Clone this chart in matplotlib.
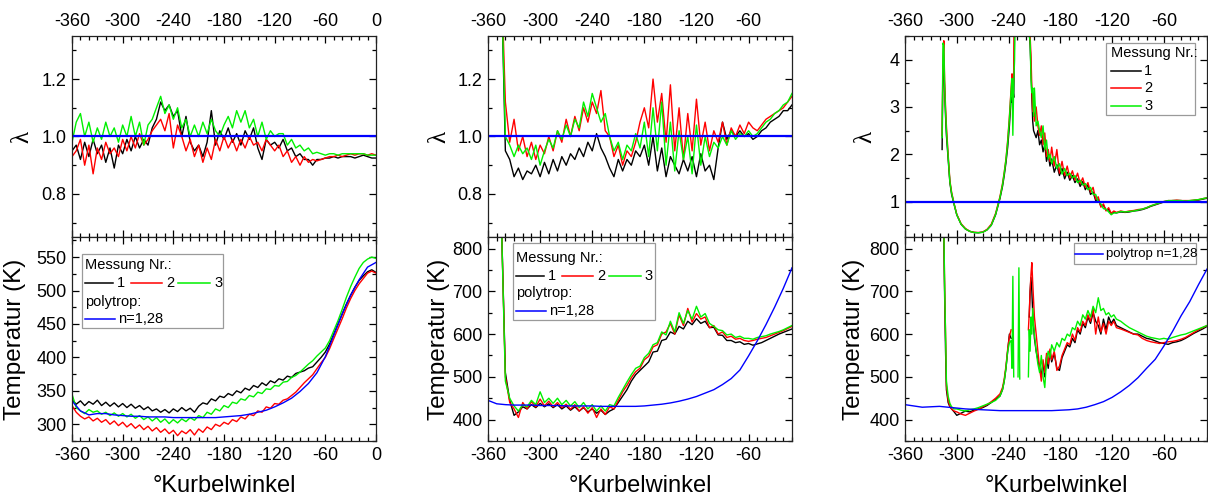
import numpy as np
import matplotlib
matplotlib.use("Agg")
import matplotlib.pyplot as plt
from matplotlib.ticker import MultipleLocator
from matplotlib.patches import Rectangle

plt.rcParams["font.family"] = ["Liberation Sans", "DejaVu Sans"]
plt.rcParams["axes.unicode_minus"] = False

N = np.nan
C1, C2, C3 = "#000000", "#ff0000", "#00f000"
CB = "#0000ff"
lam_ref = 1.0

# ---------------- left column ----------------
ang1 = np.arange(-360, 1, 5)
lam1_m1 = [0.95, 0.97, 0.92, 0.98, 0.93, 0.99, 0.94, 0.97, 0.91, 0.96,
           0.89, 0.97, 0.94, 0.99, 0.95, 1.00, 0.96, 0.99, 0.97, 1.03,
           1.06, 1.12, 1.09, 1.11, 1.07, 1.09, 1.00, 1.07, 0.98, 0.95,
           0.97, 0.93, 0.98, 1.09, 0.97, 1.02, 0.99, 1.03, 0.98, 1.01,
           0.97, 1.02, 0.99, 1.03, 0.96, 0.92, 0.99, 0.97, 0.98, 0.96,
           0.99, 0.95, 0.96, 0.93, 0.94, 0.92, 0.92, 0.90, 0.92, 0.92,
           0.925, 0.925, 0.93, 0.925, 0.93, 0.93, 0.93, 0.925, 0.93, 0.935,
           0.93, 0.925, 0.925]
lam1_m2 = [0.93, 0.95, 0.99, 0.90, 0.97, 0.87, 0.96, 0.92, 0.98, 0.94,
           0.96, 0.93, 0.99, 0.95, 1.00, 0.96, 1.01, 0.97, 0.99, 1.02,
           1.04, 1.06, 1.02, 1.08, 0.96, 1.04, 1.00, 0.95, 0.99, 0.93,
           0.97, 0.91, 0.96, 0.92, 0.99, 0.95, 1.00, 0.96, 0.99, 0.95,
           0.99, 0.96, 1.00, 0.97, 0.98, 0.95, 0.99, 0.97, 0.95, 0.97,
           0.93, 0.95, 0.91, 0.93, 0.90, 0.93, 0.91, 0.92, 0.915, 0.92,
           0.925, 0.93, 0.93, 0.935, 0.93, 0.935, 0.94, 0.935, 0.94, 0.94,
           0.935, 0.94, 0.935]
lam1_m3 = [0.98, 1.05, 1.08, 1.00, 1.05, 0.98, 1.03, 0.99, 1.05, 1.00,
           1.03, 0.98, 1.04, 1.00, 1.07, 1.00, 1.05, 0.97, 1.04, 1.06,
           1.10, 1.14, 1.08, 1.11, 1.06, 1.10, 1.03, 1.06, 1.00, 1.04,
           1.00, 1.05, 1.01, 1.06, 1.02, 1.00, 1.04, 1.07, 1.03, 1.09,
           1.05, 1.09, 1.03, 1.06, 1.00, 1.05, 0.99, 1.02, 1.00, 1.01,
           1.01, 0.97, 0.99, 0.96, 0.97, 0.95, 0.96, 0.94, 0.945, 0.94,
           0.935, 0.94, 0.94, 0.935, 0.94, 0.94, 0.94, 0.94, 0.94, 0.94,
           0.935, 0.935, 0.935]
T1_m1 = [337, 330, 335, 328, 334, 330, 336, 328, 333, 327,
         332, 326, 331, 325, 330, 324, 328, 322, 326, 320,
         323, 318, 322, 317, 323, 319, 325, 320, 324, 318,
         327, 332, 330, 338, 335, 342, 340, 346, 343, 350,
         347, 354, 351, 358, 355, 362, 358, 365, 362, 368,
         366, 372, 370, 376, 378, 380, 384, 386, 393, 400,
         408, 420, 435, 450, 465, 480, 493, 505, 515, 522,
         528, 531, 527]
T1_m2 = [328, 318, 312, 308, 311, 305, 309, 303, 307, 300,
         305, 298, 303, 296, 301, 294, 299, 292, 297, 290,
         295, 288, 293, 286, 291, 283, 290, 286, 292, 284,
         293, 288, 296, 292, 300, 297, 303, 300, 307, 304,
         311, 308, 315, 313, 320, 318, 326, 324, 331, 330,
         336, 338, 343, 348, 355, 362, 368, 374, 383, 392,
         400, 413, 428, 443, 458, 474, 488, 500, 510, 518,
         526, 529, 526]
T1_m3 = [345, 325, 320, 316, 322, 318, 320, 315, 318, 313,
         317, 312, 316, 311, 315, 309, 313, 307, 311, 305,
         310, 303, 308, 301, 307, 302, 308, 304, 310, 306,
         313, 310, 318, 315, 323, 320, 328, 325, 333, 331,
         338, 336, 343, 341, 348, 346, 353, 352, 358, 357,
         363, 364, 370, 373, 378, 384, 390, 395, 402, 408,
         414, 425, 440, 455, 472, 490, 506, 520, 533, 542,
         547, 550, 548]
ang1_poly = np.arange(-360, 1, 10)
T1_poly = [335, 320, 314, 316, 316, 314, 313, 312, 312, 311,
           311, 311, 310, 310, 310, 310, 310, 310, 311, 312,
           313, 315, 318, 321, 326, 332, 339, 349, 361, 377,
           401, 433, 465, 493, 516, 535, 542]

# ---------------- middle column ----------------
ang2 = np.arange(-345, -9, 5)
lam2_m1 = [1.6, 0.95, 0.92, 0.86, 0.89, 0.85, 0.88, 0.87, 0.90, 0.86,
           0.91, 0.87, 0.92, 0.88, 0.93, 0.90, 0.94, 0.92, 0.96, 0.93,
           0.98, 0.95, 1.01, 0.96, 0.93, 0.89, 0.86, 0.92, 0.88, 0.92,
           0.90, 0.95, 0.93, 0.97, 0.90, 1.00, 0.88, 0.96, 0.86, 0.93,
           0.90, 0.87, 0.92, 0.88, 0.93, 0.86, 0.94, 0.88, 0.90, 0.85,
           0.96, 1.05, 0.99, 1.02, 1.00, 1.02, 1.00, 1.01, 0.99, 1.00,
           1.02, 1.03, 1.05, 1.06, 1.07, 1.09, 1.09, 1.11]
lam2_m2 = [1.6, 1.12, 0.98, 1.06, 0.95, 1.00, 0.93, 0.98, 0.92, 0.97,
           0.94, 1.00, 0.95, 1.02, 0.98, 1.06, 1.00, 1.07, 1.02, 1.10,
           1.05, 1.12, 1.08, 1.16, 1.02, 1.00, 0.93, 0.97, 0.90, 0.95,
           0.93, 0.98, 1.05, 1.10, 1.03, 1.20, 1.05, 1.15, 0.98, 1.18,
           0.95, 1.10, 0.92, 1.08, 0.95, 1.13, 0.97, 1.05, 0.95, 1.02,
           0.98, 1.05, 0.97, 1.03, 1.00, 1.04, 1.01, 1.05, 1.03, 1.02,
           1.04, 1.06, 1.07, 1.08, 1.09, 1.10, 1.12, 1.14]
lam2_m3 = [1.6, 1.00, 0.97, 0.93, 0.97, 0.94, 0.96, 0.92, 0.97, 0.90,
           0.95, 0.99, 0.96, 1.02, 0.99, 1.04, 1.00, 1.06, 1.03, 1.12,
           1.07, 1.15, 1.10, 1.05, 1.08, 1.00, 0.95, 0.98, 0.92, 0.97,
           0.95, 1.01, 0.96, 1.05, 0.93, 1.10, 0.95, 1.12, 0.90, 1.05,
           0.88, 1.02, 0.92, 1.00, 0.87, 1.04, 0.90, 1.00, 0.93, 0.98,
           0.96, 1.00, 0.97, 1.02, 0.99, 1.01, 1.00, 1.02, 1.00, 1.01,
           1.03, 1.05, 1.06, 1.08, 1.09, 1.11, 1.12, 1.15]
T2_m1 = [900, 510, 445, 410, 418, 430, 425, 435, 428, 438,
         430, 437, 428, 435, 425, 432, 422, 430, 420, 428,
         418, 425, 415, 422, 412, 420, 425, 440, 455, 470,
         490, 505, 515, 525, 535, 558, 560, 585, 588, 605,
         600, 618, 612, 630, 622, 636, 625, 630, 615, 616,
         598, 597, 585, 585, 580, 582, 576, 578, 574, 577,
         580, 585, 590, 595, 600, 604, 608, 612]
T2_m2 = [900, 500, 440, 425, 405, 440, 425, 442, 430, 448,
         432, 443, 430, 440, 428, 436, 424, 435, 420, 430,
         415, 428, 405, 425, 412, 430, 425, 445, 465, 480,
         498, 512, 520, 540, 548, 570, 575, 600, 605, 625,
         600, 645, 620, 660, 628, 648, 635, 640, 615, 620,
         600, 605, 592, 595, 588, 590, 585, 583, 585, 588,
         590, 592, 596, 600, 604, 608, 613, 618]
T2_m3 = [900, 490, 450, 432, 420, 435, 430, 445, 435, 465,
         440, 450, 438, 450, 435, 445, 432, 442, 428, 440,
         425, 435, 420, 432, 420, 435, 432, 452, 470, 488,
         505, 520, 525, 545, 555, 575, 580, 605, 598, 630,
         605, 650, 625, 655, 635, 665, 640, 648, 625, 618,
         610, 608, 598, 600, 592, 595, 590, 590, 588, 592,
         594, 596, 600, 603, 606, 610, 615, 620]
ang2_poly = np.arange(-360, -9, 10)
T2_poly = [445, 437, 435, 434, 434, 434, 433, 433, 433, 432,
           432, 432, 432, 431, 431, 431, 431, 431, 432, 434,
           436, 439, 443, 448, 454, 462, 470, 482, 496, 516,
           549, 584, 622, 663, 707, 755]

# ---------------- right column ----------------
ang3 = [-317, -316, -315, -314, -313, -312, -310, -308, -306, -303,
        -300, -295, -290, -285, -280, -275, -270, -265, -260, -255,
        -250, -247, -245, -243, -241, -239, -237, -236, -235, -234,
        -233, -232, -231, -230, -229, -228, -227, -225, -220, -218,
        -217, -216, -215, -214, -213, -212, -211, -210, -208, -206,
        -204, -202, -200, -198, -196, -194, -192, -190, -187, -184,
        -181, -178, -175, -172, -169, -166, -163, -160, -157, -154,
        -151, -148, -145, -142, -139, -136, -133, -130, -127, -124,
        -121, -118, -115, -110, -105, -100, -95, -90, -85, -80,
        -75, -70, -65, -60, -55, -50, -45, -40, -35, -30,
        -25, -20, -15, -10]
lam3_m1 = [2.1, 3.9, 3.9, 3.3, 2.8, 2.4, 1.9, 1.4, 1.15, 0.93,
           0.72, 0.52, 0.42, 0.37, 0.345, 0.34, 0.35, 0.40, 0.50, 0.72,
           1.06, 1.32, 1.55, 1.82, 2.15, 2.6, 3.2, 3.1, 3.4, 3.2,
           4.6, 6, 6, 6, 6, 6, 6, 6, 6, 6,
           6, 4.6, 4.3, 3.8, 3.2, 2.7, 2.5, 2.45, 2.35, 2.5,
           2.2, 2.3, 2.05, 2.2, 1.85, 2.0, 1.75, 1.9, 1.62, 1.78,
           1.55, 1.7, 1.48, 1.62, 1.45, 1.55, 1.4, 1.48, 1.32, 1.42,
           1.25, 1.35, 1.15, 1.2, 1.02, 1.05, 0.9, 0.92, 0.82, 0.83,
           0.74, 0.77, 0.76, 0.78, 0.77, 0.78, 0.80, 0.81, 0.83, 0.86,
           0.90, 0.93, 0.96, 0.99, 1.01, 1.02, 1.02, 1.02, 1.01, 1.01,
           1.02, 1.03, 1.05, 1.07]
lam3_m2 = [2.4, 4.0, 4.4, 3.5, 3.0, 2.6, 2.0, 1.45, 1.2, 0.95,
           0.73, 0.53, 0.43, 0.37, 0.35, 0.345, 0.355, 0.41, 0.52, 0.75,
           1.1, 1.38, 1.62, 1.9, 2.3, 2.8, 3.4, 3.7, 3.0, 3.8,
           6, 6, 6, 6, 6, 6, 6, 6, 6, 6,
           6, 6, 4.5, 4.1, 3.4, 2.9, 3.0, 2.7, 3.0, 2.6,
           2.4, 2.6, 2.2, 2.45, 1.95, 2.1, 1.85, 2.15, 1.75, 2.1,
           1.6, 1.85, 1.55, 1.75, 1.5, 1.65, 1.45, 1.6, 1.38, 1.5,
           1.3, 1.4, 1.2, 1.3, 1.05, 1.1, 0.88, 0.95, 0.8, 0.87,
           0.75, 0.8, 0.77, 0.8, 0.78, 0.8, 0.81, 0.83, 0.84, 0.87,
           0.91, 0.94, 0.97, 1.0, 1.02, 1.02, 1.03, 1.02, 1.02, 1.02,
           1.03, 1.04, 1.06, 1.08]
lam3_m3 = [2.35, 4.35, 4.3, 3.4, 2.9, 2.5, 1.95, 1.42, 1.18, 0.94,
           0.72, 0.52, 0.42, 0.37, 0.345, 0.34, 0.35, 0.40, 0.50, 0.73,
           1.08, 1.35, 1.6, 1.88, 2.25, 2.75, 3.35, 3.6, 2.4, 3.5,
           4.0, 6, 6, 6, 6, 6, 6, 6, 6, 6,
           6, 4.5, 4.4, 3.6, 3.3, 3.4, 2.8, 3.4, 2.6, 2.7,
           2.5, 2.35, 2.6, 2.1, 2.3, 1.9, 2.0, 1.8, 1.95, 1.7,
           1.8, 1.58, 1.7, 1.55, 1.6, 1.5, 1.55, 1.4, 1.45, 1.35,
           1.38, 1.25, 1.3, 1.15, 1.15, 1.0, 0.95, 0.85, 0.84, 0.78,
           0.72, 0.76, 0.76, 0.79, 0.78, 0.79, 0.80, 0.82, 0.84, 0.87,
           0.91, 0.94, 0.97, 1.0, 1.02, 1.02, 1.02, 1.02, 1.01, 1.02,
           1.03, 1.04, 1.06, 1.08]
T3_m1 = [900, 900, 820, 680, 560, 470, 440, 430, 425, 418,
         410, 415, 420, 418, 422, 425, 428, 433, 440, 448,
         455, 470, 490, 520, 560, 600, 590, N, N, N,
         N, N, N, N, N, N, N, N, N, N,
         N, 640, 700, 732, 700, 650, 620, 590, 560, 540,
         520, 505, 530, 500, 545, 520, 560, 535, 555, 520,
         515, 545, 560, 575, 570, 590, 580, 610, 600, 625,
         615, 640, 625, 650, 630, 620, 600, 635, 610, 640,
         625, 635, 620, 615, 610, 605, 600, 600, 595, 590,
         588, 584, 580, 578, 576, 580, 582, 585, 590, 596,
         602, 607, 612, 618]
T3_m2 = [N, 900, 850, 700, 600, 480, 445, 432, 425, 420,
         418, 413, 410, 415, 420, 424, 430, 435, 442, 450,
         460, 475, 495, 525, 565, 595, 610, N, N, N,
         N, N, N, N, N, N, N, N, N, N,
         610, 650, 700, 740, 767, 720, 680, 640, 600, 560,
         520, 490, 540, 510, 555, 530, 565, 540, 560, 515,
         525, 550, 565, 580, 575, 600, 585, 615, 605, 630,
         620, 645, 630, 660, 600, 640, 605, 625, 600, 630,
         620, 630, 615, 612, 608, 604, 600, 598, 590, 585,
         582, 580, 578, 580, 582, 583, 585, 588, 592, 598,
         604, 610, 615, 620]
T3_m3 = [900, 900, 850, 700, 600, 490, 455, 438, 430, 425,
         425, 422, 420, 423, 425, 428, 432, 436, 440, 445,
         455, 470, 490, 520, 560, 580, 585, 520, 735, 500,
         N, N, N, N, 500, 755, 495, N, N, N,
         500, 610, 560, 640, 600, 660, 620, 600, 560, 530,
         510, 550, 500, 475, 540, 560, 545, 575, 560, 580,
         570, 590, 585, 600, 595, 615, 610, 630, 620, 645,
         635, 655, 640, 665, 650, 685, 655, 660, 645, 650,
         640, 645, 635, 630, 622, 615, 610, 605, 600, 595,
         592, 590, 588, 590, 588, 592, 595, 598, 600, 604,
         608, 612, 616, 620]
ang3_poly = np.arange(-360, -9, 10)
T3_poly = [435, 432, 429, 430, 431, 429, 427, 425, 424, 423,
           422, 421, 421, 421, 421, 421, 421, 421, 422, 423,
           425, 429, 435, 442, 452, 465, 480, 498, 520, 541,
           572, 606, 643, 676, 715, 752]

FIG_W, FIG_H = 1208, 498
LEG_FS = 10.5


def style(ax, xlim, ylim, ymaj, ymin, top):
    ax.set_xlim(*xlim)
    ax.set_ylim(*ylim)
    ax.xaxis.set_major_locator(MultipleLocator(60))
    ax.xaxis.set_minor_locator(MultipleLocator(10))
    ax.yaxis.set_major_locator(MultipleLocator(ymaj))
    ax.yaxis.set_minor_locator(MultipleLocator(ymin))
    ax.tick_params(which="both", direction="in", top=True, right=True,
                   labelsize=13, width=0.9, pad=4)
    ax.tick_params(which="major", length=5)
    ax.tick_params(which="minor", length=3)
    if top:
        ax.tick_params(labeltop=True, labelbottom=False)
    for s in ax.spines.values():
        s.set_linewidth(0.9)
        s.set_color("#222222")


def meas(ax, x, ys):
    for y, c in zip(ys, (C1, C2, C3)):
        ax.plot(x, np.array(y, dtype=float), color=c, lw=1.0)


def frame(ax, x0, y0, x1, y1):
    ax.add_patch(Rectangle((x0, y0), x1 - x0, y1 - y0, transform=ax.transAxes,
                           fc="white", ec="#9a9a9a", lw=0.9, zorder=5))


def key(ax, x0, x1, y, color, label, fs, gap=0.012):
    ax.plot([x0, x1], [y, y], transform=ax.transAxes, color=color, lw=1.1,
            zorder=6, clip_on=False)
    ax.text(x1 + gap, y, label, transform=ax.transAxes, fontsize=fs,
            va="center", ha="left", zorder=6)


def txt(ax, x, y, s, fs):
    ax.text(x, y, s, transform=ax.transAxes, fontsize=fs, va="center",
            ha="left", zorder=6)


def big_legend(ax, box, tx, rows, aw, fs=LEG_FS):
    frame(ax, *box)
    f = lambda px: tx + px / aw
    txt(ax, tx, rows[0], "Messung Nr.:", fs)
    key(ax, f(0), f(28), rows[1], C1, "1", fs, gap=4 / aw)
    key(ax, f(46), f(77), rows[1], C2, "2", fs, gap=4 / aw)
    key(ax, f(93), f(125), rows[1], C3, "3", fs, gap=4 / aw)
    txt(ax, tx, rows[2], "polytrop:", fs)
    key(ax, f(0), f(30), rows[3], CB, "n=1,28", fs, gap=3 / aw)


fig = plt.figure(figsize=(FIG_W / 100, FIG_H / 100), dpi=100)
cols = [(72, 304), (488, 304), (905, 302)]
top_rect = (36, 237)
bot_rect = (237, 441)


def add_ax(col, rows):
    l, w = col
    t, b = rows
    return fig.add_axes([l / FIG_W, 1 - b / FIG_H, w / FIG_W, (b - t) / FIG_H])


lam_font = dict(fontsize=18, family=["Liberation Serif", "DejaVu Serif"])

# left column
ax = add_ax(cols[0], top_rect)
meas(ax, ang1, [lam1_m1, lam1_m2, lam1_m3])
ax.axhline(lam_ref, color=CB, lw=1.6)
style(ax, (-360, 0), (0.65, 1.35), 0.2, 0.1, True)
ax.set_ylabel("λ", **lam_font)
ax.yaxis.set_label_coords(-0.128, 0.5)

ax = add_ax(cols[0], bot_rect)
meas(ax, ang1, [T1_m1, T1_m2, T1_m3])
ax.plot(ang1_poly, T1_poly, color=CB, lw=1.0)
style(ax, (-360, 0), (275, 580), 50, 25, False)
ax.set_ylabel("Temperatur (K)", fontsize=17.5)
ax.yaxis.set_label_coords(-0.150, 0.5)
ax.set_xlabel("°Kurbelwinkel", fontsize=17)
ax.xaxis.set_label_coords(0.5, -0.165)
big_legend(ax, (0.033, 0.554, 0.497, 0.917), 0.043,
           (0.863, 0.773, 0.683, 0.597), 304)

# middle column
ax = add_ax(cols[1], top_rect)
meas(ax, ang2, [lam2_m1, lam2_m2, lam2_m3])
ax.axhline(lam_ref, color=CB, lw=1.6)
style(ax, (-360, -10), (0.65, 1.35), 0.2, 0.1, True)
ax.set_ylabel("λ", **lam_font)
ax.yaxis.set_label_coords(-0.125, 0.5)

ax = add_ax(cols[1], bot_rect)
meas(ax, ang2, [T2_m1, T2_m2, T2_m3])
ax.plot(ang2_poly, T2_poly, color=CB, lw=1.0)
style(ax, (-360, -10), (350, 827), 100, 50, False)
ax.set_ylabel("Temperatur (K)", fontsize=17.5)
ax.yaxis.set_label_coords(-0.125, 0.5)
ax.set_xlabel("°Kurbelwinkel", fontsize=17)
ax.xaxis.set_label_coords(0.5, -0.165)
big_legend(ax, (0.082, 0.593, 0.549, 0.971), 0.092,
           (0.896, 0.810, 0.724, 0.639), 304)

# right column
ax = add_ax(cols[2], top_rect)
meas(ax, ang3, [lam3_m1, lam3_m2, lam3_m3])
ax.axhline(lam_ref, color=CB, lw=1.6)
style(ax, (-360, -10), (0.25, 4.5), 1, 0.5, True)
ax.set_ylabel("λ", **lam_font)
ax.yaxis.set_label_coords(-0.096, 0.5)
frame(ax, 0.666, 0.607, 0.960, 0.964)
txt(ax, 0.683, 0.914, "Messung Nr.:", LEG_FS)
for yy, c, lab in zip((0.826, 0.740, 0.652), (C1, C2, C3), ("1", "2", "3")):
    key(ax, 0.683, 0.782, yy, c, lab, LEG_FS, gap=0.01)

ax = add_ax(cols[2], bot_rect)
meas(ax, ang3, [T3_m1, T3_m2, T3_m3])
ax.plot(ang3_poly, T3_poly, color=CB, lw=1.0)
style(ax, (-360, -10), (350, 827), 100, 50, False)
ax.set_ylabel("Temperatur (K)", fontsize=17.5)
ax.yaxis.set_label_coords(-0.132, 0.5)
ax.set_xlabel("°Kurbelwinkel", fontsize=17)
ax.xaxis.set_label_coords(0.5, -0.165)
frame(ax, 0.559, 0.866, 0.964, 0.969)
key(ax, 0.562, 0.656, 0.915, CB, "polytrop n=1,28", 9.5, gap=0.01)

fig.savefig("out.png", dpi=100)
